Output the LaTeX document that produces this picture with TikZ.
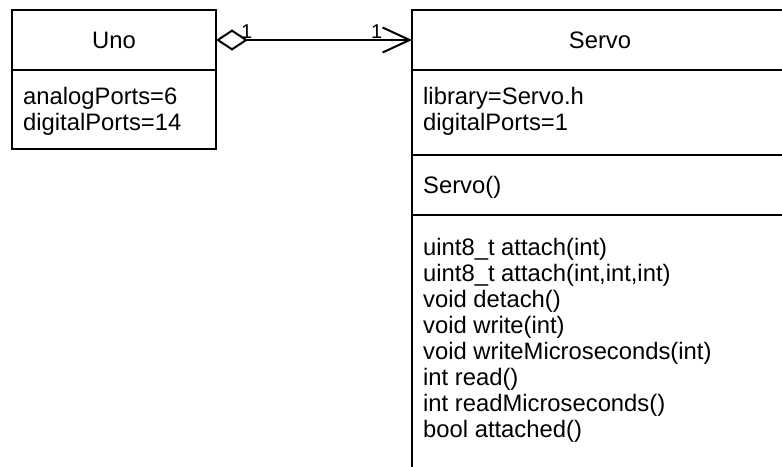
\documentclass[tikz,border=0pt]{standalone}
\usepackage{fontspec}
\setmainfont{Liberation Sans}
\usetikzlibrary{arrows.meta}
\begin{document}
\begin{tikzpicture}[x=1pt,y=-1pt,
  sec/.style={draw=black,line width=2pt,fill=white,anchor=north west,inner sep=0pt,outer sep=0pt},
  ttl/.style={font=\fontsize{23.8pt}{26pt}\selectfont,inner sep=0pt,anchor=base},
  txt/.style={font=\fontsize{23.8pt}{26pt}\selectfont,inner sep=0pt,anchor=base west},
  mult/.style={font=\fontsize{20pt}{22pt}\selectfont,inner sep=0pt,anchor=base west},
  conn/.style={line width=2pt}
]
\useasboundingbox (0,0) rectangle (782,466);
\clip (0,0) rectangle (782,466);
\fill[white] (0,0) rectangle (782,466);
% Uno
\node[sec,minimum width=204pt,minimum height=60pt] (unoH) at (12,10) {};
\node[sec,minimum width=204pt,minimum height=79pt] (unoA) at (12,70) {};
\node[ttl] (unoT) at (114,48) {Uno};
\node[txt] (unoA1) at (23,104) {analogPorts=6};
\node[txt] (unoA2) at (23,130) {digitalPorts=14};
% Servo
\node[sec,minimum width=376pt,minimum height=60pt] (srvH) at (412,10) {};
\node[sec,minimum width=376pt,minimum height=85pt] (srvA) at (412,70) {};
\node[sec,minimum width=376pt,minimum height=60pt] (srvC) at (412,155) {};
\node[sec,minimum width=376pt,minimum height=270pt] (srvM) at (412,215) {};
\node[ttl] (srvT) at (600,48) {Servo};
\node[txt] (srvA1) at (423,104) {library=Servo.h};
\node[txt] (srvA2) at (423,130) {digitalPorts=1};
\node[txt] (srvC1) at (423,193) {Servo()};
\node[txt] (m1) at (423,255) {uint8\_t attach(int)};
\node[txt] (m2) at (423,281) {uint8\_t attach(int,int,int)};
\node[txt] (m3) at (423,307) {void detach()};
\node[txt] (m4) at (423,333) {void write(int)};
\node[txt] (m5) at (423,359) {void writeMicroseconds(int)};
\node[txt] (m6) at (423,385) {int read()};
\node[txt] (m7) at (423,411) {int readMicroseconds()};
\node[txt] (m8) at (423,437) {bool attached()};
% connector
\draw[conn,{Diamond[open,length=32pt,width=21pt,line width=2pt]}-{Straight Barb[length=27pt,width=25pt,line width=2pt]}]
  (unoH.east) -- (srvH.west);
\node[mult] (l1) at (241,38) {1};
\node[mult] (l2) at (371,38) {1};
\end{tikzpicture}
\end{document}
